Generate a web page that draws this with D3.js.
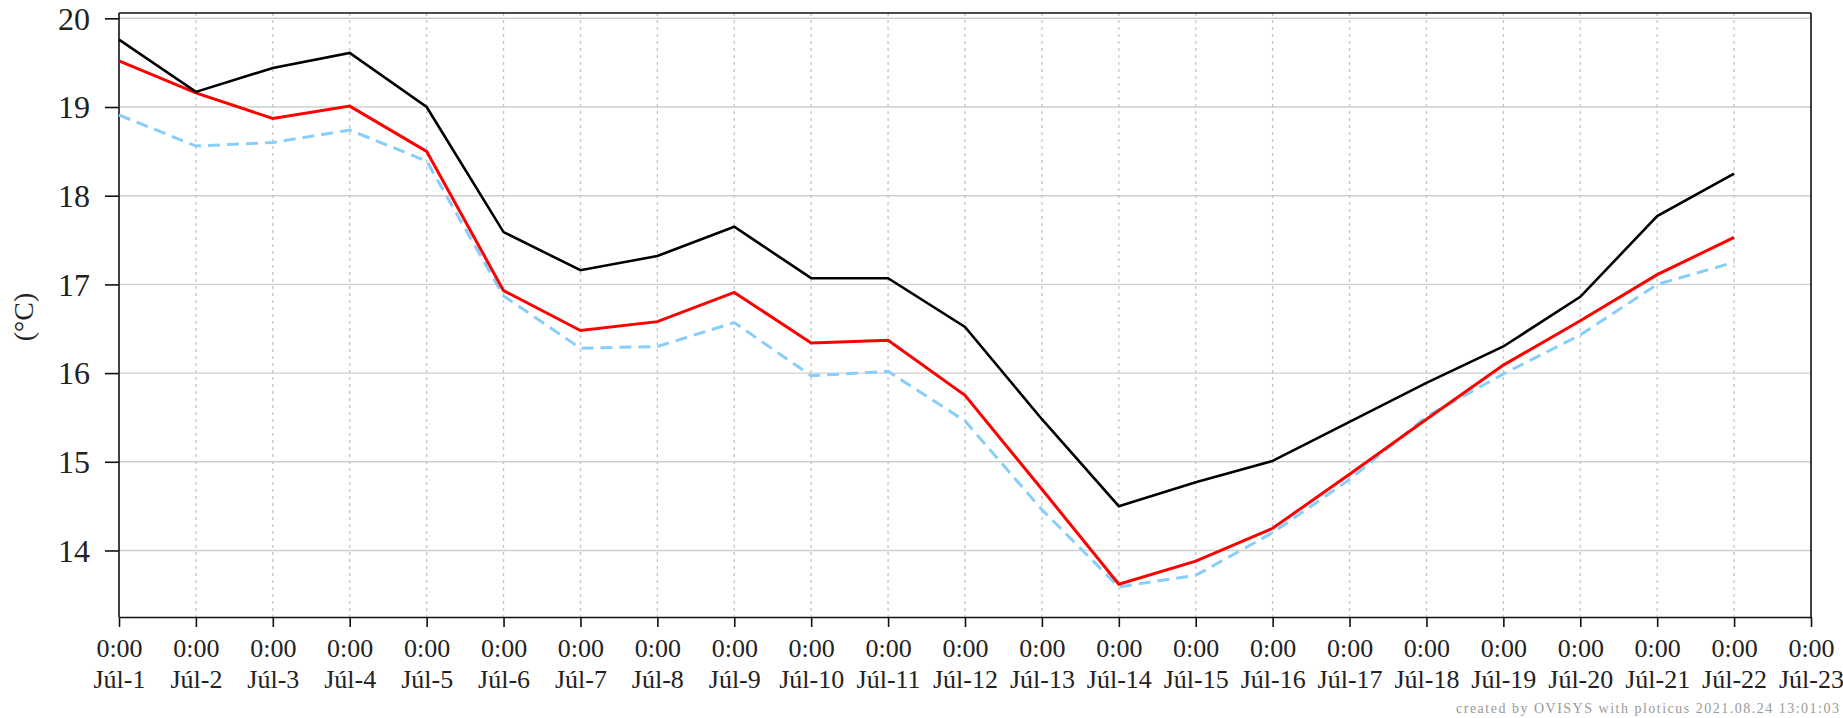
<!DOCTYPE html>
<html>
<head>
<meta charset="utf-8">
<script src="https://cdn.jsdelivr.net/npm/d3@7"></script>
<style>
  html, body { margin: 0; padding: 0; background: #fff; }
  svg { display: block; }
  text { font-family: "Liberation Serif", "Times New Roman", serif; }
</style>
</head>
<body>
<svg id="chart" width="1843" height="718"></svg>
<script>
// ---- data ----
const days = [1,2,3,4,5,6,7,8,9,10,11,12,13,14,15,16,17,18,19,20,21,22];
const tickDays = [1,2,3,4,5,6,7,8,9,10,11,12,13,14,15,16,17,18,19,20,21,22,23];
const tickTimeLabel = "0:00";
const monthLabel = "Júl";
const yTicks = [14,15,16,17,18,19,20];
const yLabel = "(°C)";
const footer = "created by OVISYS with ploticus 2021.08.24 13:01:03";

const seriesMax = [19.76,19.17,19.44,19.61,19.00,17.59,17.16,17.32,17.65,17.07,17.07,16.52,15.48,14.50,14.77,15.01,15.45,15.89,16.30,16.86,17.77,18.25];
const seriesAvg = [19.52,19.16,18.87,19.01,18.50,16.93,16.48,16.58,16.91,16.34,16.37,15.75,14.69,13.62,13.88,14.25,14.86,15.48,16.09,16.59,17.11,17.53];
const seriesMin = [18.91,18.56,18.60,18.74,18.39,16.87,16.28,16.30,16.57,15.97,16.02,15.46,14.46,13.59,13.72,14.20,14.80,15.51,15.99,16.43,17.00,17.25];

(function() {
// ---- layout ----
const svg = d3.select("#chart");
const pLeft = 119, pRight = 1811, pTop = 13, pBottom = 617;

const x = d3.scaleLinear().domain([1, 23]).range([pLeft, pRight]);
const y = d3.scaleLinear().domain([13.25, 20.06]).range([pBottom, pTop]);

// horizontal grid (solid)
svg.append("g").selectAll("line").data(yTicks).join("line")
  .attr("x1", pLeft).attr("x2", pRight)
  .attr("y1", d => y(d)).attr("y2", d => y(d))
  .attr("stroke", "#cfcfcf").attr("stroke-width", 1.4);

// vertical grid (dotted)
svg.append("g").selectAll("line").data(tickDays.slice(1, -1)).join("line")
  .attr("x1", d => x(d)).attr("x2", d => x(d))
  .attr("y1", pTop).attr("y2", pBottom)
  .attr("stroke", "#c4c4c4").attr("stroke-width", 1.3)
  .attr("stroke-dasharray", "3,4");

// frame top/right
svg.append("line").attr("x1", pLeft).attr("x2", pRight).attr("y1", pTop).attr("y2", pTop)
  .attr("stroke", "#111").attr("stroke-width", 1.6);
svg.append("line").attr("x1", pRight).attr("x2", pRight).attr("y1", pTop).attr("y2", pBottom)
  .attr("stroke", "#111").attr("stroke-width", 1.6);

// y axis
const yAxis = d3.axisLeft(y).tickValues(yTicks).tickSize(14).tickPadding(15)
  .tickSizeOuter(0).tickFormat(d3.format("d"));
const gy = svg.append("g").attr("transform", `translate(${pLeft},0)`).call(yAxis);
gy.select(".domain").attr("stroke", "#111").attr("stroke-width", 1.6)
  .attr("d", `M0,${pTop}V${pBottom}`);
gy.selectAll(".tick line").attr("stroke", "#111").attr("stroke-width", 1.6);
gy.selectAll(".tick text").attr("font-size", 32).attr("fill", "#222")
  .style("font-family", '"Liberation Serif", serif').attr("dy", "0.34em");

// x axis
const xAxis = d3.axisBottom(x).tickValues(tickDays).tickSize(10).tickSizeOuter(0).tickFormat(() => "");
const gx = svg.append("g").attr("transform", `translate(0,${pBottom})`).call(xAxis);
gx.select(".domain").attr("stroke", "#111").attr("stroke-width", 1.6);
gx.selectAll(".tick line").attr("stroke", "#111").attr("stroke-width", 1.6);
gx.selectAll(".tick").each(function(d) {
  const t = d3.select(this).append("text")
    .attr("fill", "#222").attr("text-anchor", "middle")
    .attr("font-size", 26)
    .style("font-family", '"Liberation Serif", serif');
  t.append("tspan").attr("x", 0).attr("y", 40).text(tickTimeLabel);
  t.append("tspan").attr("x", 0).attr("y", 71).text(monthLabel + "-" + d);
});

// y label
svg.append("text")
  .attr("transform", `translate(33,317) rotate(-90)`)
  .attr("text-anchor", "middle")
  .attr("font-size", 28).attr("fill", "#222")
  .text(yLabel);

// lines
const line = d3.line().x((d, i) => x(days[i])).y(d => y(d));
svg.append("path").datum(seriesMin).attr("d", line)
  .attr("fill", "none").attr("stroke", "#87cefa").attr("stroke-width", 3)
  .attr("stroke-dasharray", "12,7");
svg.append("path").datum(seriesAvg).attr("d", line)
  .attr("fill", "none").attr("stroke", "#ff0000").attr("stroke-width", 3);
svg.append("path").datum(seriesMax).attr("d", line)
  .attr("fill", "none").attr("stroke", "#000").attr("stroke-width", 2.6);

// footer
svg.append("text")
  .attr("x", 1456).attr("y", 713)
  .attr("font-size", 14).attr("fill", "#999")
  .attr("textLength", 383).attr("lengthAdjust", "spacing")
  .text(footer);
})();
</script>
</body>
</html>
